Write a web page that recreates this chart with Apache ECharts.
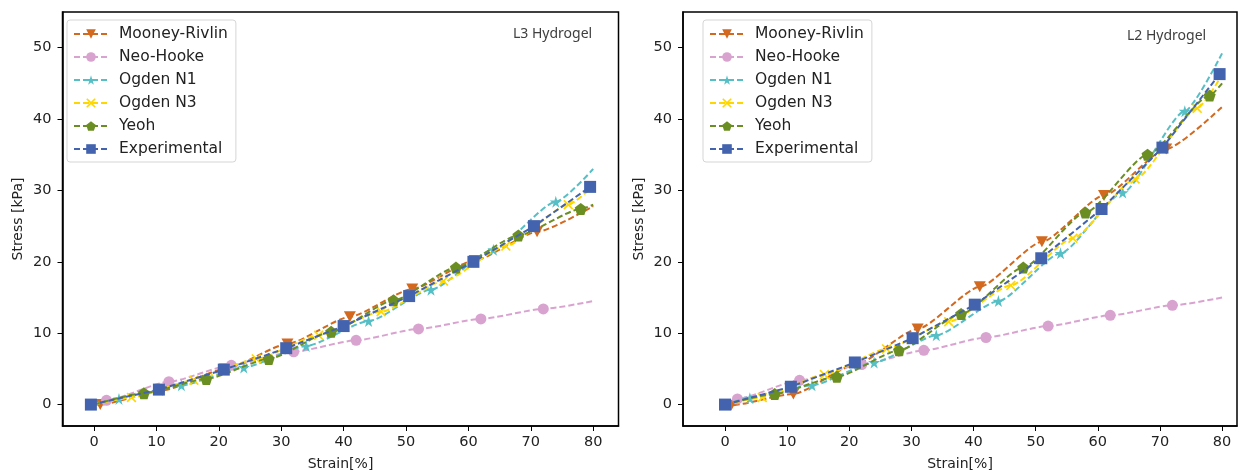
<!DOCTYPE html>
<html>
<head>
<meta charset="utf-8">
<script src="https://cdn.jsdelivr.net/npm/echarts@6/dist/echarts.min.js"></script>
<style>
  html, body { margin: 0; padding: 0; background: #fff; }
  #chart { width: 1240px; height: 470px; }
</style>
</head>
<body>
<div id="chart"></div>
<script>
// tick labels
const xTicks = [0, 10, 20, 30, 40, 50, 60, 70, 80]
const yTicks = [0, 10, 20, 30, 40, 50]
const seriesNames = ['Mooney-Rivlin', 'Neo-Hooke', 'Ogden N1', 'Ogden N3', 'Yeoh', 'Experimental']

// L3 hydrogel (left) - marker points [strain, stress], plus value of the fit at 80%
const l3Mooney = [[1, 0], [11, 2.0], [21, 5.0], [31, 8.5], [41, 12.3], [51, 16.2], [61, 20.2], [71, 24.2]]
const l3Neo = [[2, 0.6], [12, 3.2], [22, 5.5], [32, 7.4], [42, 9.0], [52, 10.6], [62, 12.0], [72, 13.4]]
const l3OgdenN1 = [[4, 0.8], [14, 2.7], [24, 5.2], [34, 8.2], [44, 11.7], [54, 16.1], [64, 21.7], [74, 28.4]]
const l3OgdenN3 = [[6, 1.0], [16, 3.4], [26, 6.4], [36, 9.7], [46, 13.0], [56, 17.3], [66, 22.2], [76, 28.0]]
const l3Yeoh = [[8, 1.6], [18, 3.6], [28, 6.4], [38, 10.2], [48, 14.6], [58, 19.2], [68, 23.7], [78, 27.4]]
const l3Exp = [[-0.5, 0], [10.4, 2.1], [20.8, 4.9], [30.8, 7.9], [40, 11.0], [50.5, 15.2], [60.8, 20.0], [70.5, 25.0], [79.5, 30.5]]
const l3FitEnds = [27.8, 14.5, 33.0, 30.6, 28.0]

// L2 hydrogel (right)
const l2Mooney = [[1, -0.1], [11, 1.5], [21, 5.6], [31, 10.6], [41, 16.5], [51, 22.8], [61, 29.3], [71, 35.8]]
const l2Neo = [[2, 0.8], [12, 3.4], [22, 5.6], [32, 7.6], [42, 9.4], [52, 11.0], [62, 12.5], [72, 13.9]]
const l2OgdenN1 = [[4, 0.9], [14, 2.7], [24, 5.9], [34, 9.7], [44, 14.5], [54, 21.2], [64, 29.7], [74, 41.1]]
const l2OgdenN3 = [[6, 1.0], [16, 4.2], [26, 7.8], [36, 11.6], [46, 16.7], [56, 23.3], [66, 31.6], [76, 41.5]]
const l2Yeoh = [[8, 1.5], [18, 3.9], [28, 7.6], [38, 12.7], [48, 19.2], [58, 26.9], [68, 35.0], [78, 43.3]]
const l2Exp = [[0, 0], [10.6, 2.5], [20.9, 5.9], [30.2, 9.3], [40.2, 14.0], [50.9, 20.5], [60.6, 27.4], [70.4, 36.0], [79.6, 46.3]]
const l2FitEnds = [41.7, 15.0, 49.2, 46.2, 45.0]

const colors = ['#d2691e', '#d9a3d0', '#56bfc6', '#ffd700', '#6b8e23', '#4363ae']
const symbols = [
  'path://M0,0 L100,0 L50,90 Z',
  'circle',
  'path://M50,0 L61,35 L98,35 L68,57 L79,91 L50,70 L21,91 L32,57 L2,35 L39,35 Z',
  'path://M0,12 L12,0 L50,38 L88,0 L100,12 L62,50 L100,88 L88,100 L50,62 L12,100 L0,88 L38,50 Z',
  'path://M50,0 L98,35 L79,91 L21,91 L2,35 Z',
  'rect',
]
const symbolSizes = [[12, 11], 11, [12, 12], [10, 10], [12, 12], [12, 12]]

const font = 'DejaVu Sans'

const buildSeries = (pts, ends, gridIdx) => {
  return pts.map((p, i) => {
    const isFit = i < 5
    let data = p.map(d => ({ value: d }))
    if (isFit) {
      data = [{ value: [0, 0], symbol: 'none' }, ...data, { value: [80, ends[i]], symbol: 'none' }]
    }
    return {
      name: seriesNames[i],
      type: 'line',
      xAxisIndex: gridIdx,
      yAxisIndex: gridIdx,
      data,
      smooth: isFit ? 0.2 : false,
      smoothMonotone: 'x',
      symbol: symbols[i],
      symbolSize: symbolSizes[i],
      showAllSymbol: true,
      color: colors[i],
      itemStyle: { color: colors[i] },
      lineStyle: { color: colors[i], width: 2, type: [6, 3] },
      z: 2 + i,
      animation: false,
    }
  })
}

const xAxisBase = {
  type: 'value',
  name: 'Strain[%]',
  nameLocation: 'middle',
  nameGap: 31,
  nameTextStyle: { fontFamily: font, fontSize: 14, color: '#222' },
  axisLine: { show: true, onZero: false, lineStyle: { color: '#000', width: 1.5 } },
  axisTick: { show: true, length: 5, customValues: xTicks, lineStyle: { color: '#000', width: 1 } },
  axisLabel: { customValues: xTicks, fontFamily: font, fontSize: 14.5, color: '#222', margin: 9 },
  splitLine: { show: false },
}
const yAxisBase = {
  type: 'value',
  min: -3,
  max: 55,
  name: 'Stress [kPa]',
  nameLocation: 'middle',
  nameGap: 37,
  nameTextStyle: { fontFamily: font, fontSize: 14, color: '#222' },
  axisLine: { show: true, onZero: false, lineStyle: { color: '#000', width: 1.5 } },
  axisTick: { show: true, length: 5, customValues: yTicks, lineStyle: { color: '#000', width: 1 } },
  axisLabel: { customValues: yTicks, fontFamily: font, fontSize: 14.5, color: '#222', margin: 11 },
  splitLine: { show: false },
}

const legendBase = {
  orient: 'vertical',
  top: 20,
  itemWidth: 34,
  itemHeight: 12,
  itemGap: 7,
  padding: [6, 8, 5, 6],
  backgroundColor: '#fff',
  borderColor: '#d5d5d5',
  borderWidth: 1,
  borderRadius: 3,
  textStyle: { fontFamily: font, fontSize: 15.5, color: '#222', padding: [0, 0, 0, 6] },
  data: seriesNames,
}

const gridBase = {
  top: 12,
  height: 414,
  show: true,
  borderColor: '#000',
  borderWidth: 1.5,
  outerBoundsMode: 'none',
}

const chart = echarts.init(document.getElementById('chart'), null, { renderer: 'canvas' })
chart.setOption({
  animation: false,
  title: [
    { text: 'L3 Hydrogel', left: 508, top: 22, textStyle: { fontFamily: 'Noto Sans', fontSize: 14, fontWeight: 'normal', color: '#404040' } },
    { text: 'L2 Hydrogel', left: 1122, top: 24, textStyle: { fontFamily: 'Noto Sans', fontSize: 14, fontWeight: 'normal', color: '#404040' } },
  ],
  grid: [
    { ...gridBase, left: 62.5, width: 556 },
    { ...gridBase, left: 683, width: 554 },
  ],
  xAxis: [
    { ...xAxisBase, gridIndex: 0, min: -5.05, max: 84.05 },
    { ...xAxisBase, gridIndex: 1, min: -6.76, max: 82.4 },
  ],
  yAxis: [
    { ...yAxisBase, gridIndex: 0 },
    { ...yAxisBase, gridIndex: 1 },
  ],
  legend: [
    { ...legendBase, left: 67 },
    { ...legendBase, left: 703 },
  ],
  series: [
    ...buildSeries([l3Mooney, l3Neo, l3OgdenN1, l3OgdenN3, l3Yeoh, l3Exp], l3FitEnds, 0),
    ...buildSeries([l2Mooney, l2Neo, l2OgdenN1, l2OgdenN3, l2Yeoh, l2Exp], l2FitEnds, 1),
  ],
})
</script>
</body>
</html>
